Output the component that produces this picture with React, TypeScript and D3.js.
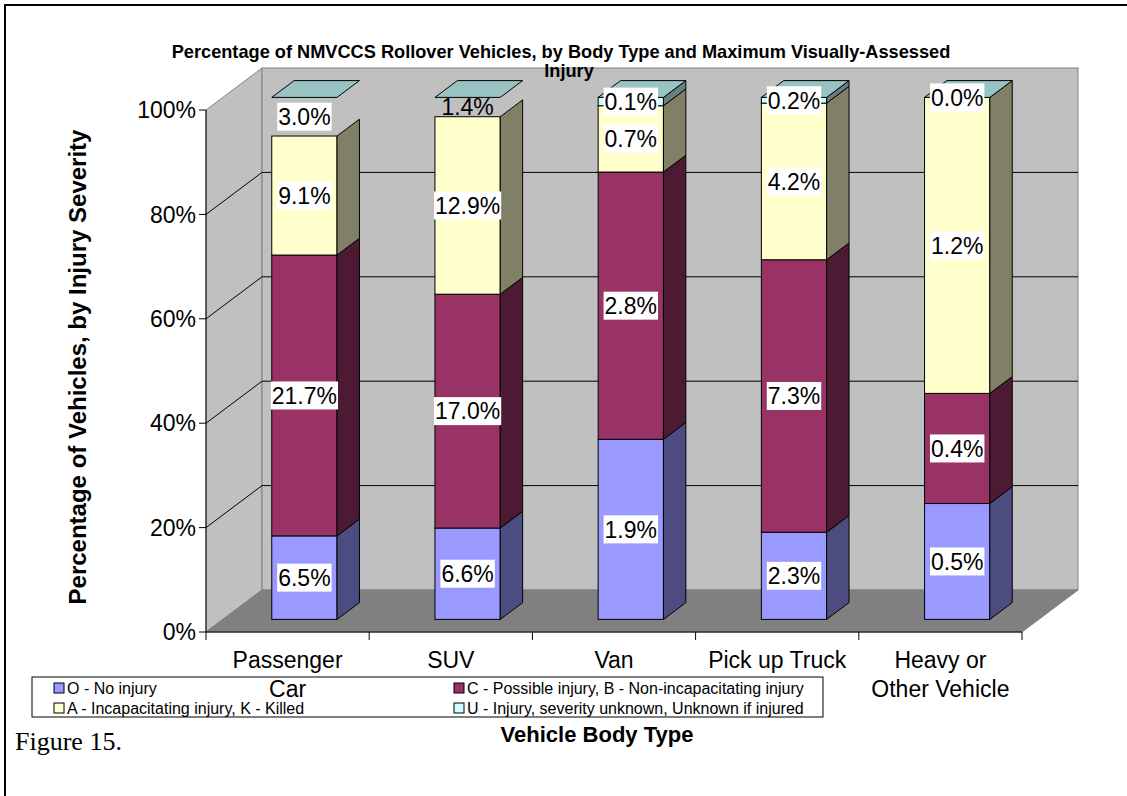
import React, { useEffect, useRef } from 'react';
import * as d3 from 'd3';

// ---------------- data ----------------
const categories = ['Passenger Car', 'SUV', 'Van', 'Pick up Truck', 'Heavy or Other Vehicle'];
const categoryLines = [['Passenger', 'Car'], ['SUV'], ['Van'], ['Pick up Truck'], ['Heavy or', 'Other Vehicle']];
const seriesKeys = ['O', 'C', 'A', 'U'];
const seriesNames = [
  'O - No injury',
  'C - Possible injury, B - Non-incapacitating injury',
  'A - Incapacitating injury, K - Killed',
  'U - Injury, severity unknown, Unknown if injured',
];
// share of each bar's height (percent)
const noInjury = [16.0, 17.5, 34.5, 16.7, 22.2];
const possibleInjury = [53.8, 44.8, 51.2, 52.2, 21.1];
const incapacitating = [22.8, 34.0, 12.7, 30.0, 56.7];
const unknownInjury = [7.4, 3.7, 1.6, 1.1, 0.0];
// printed data labels
const noInjuryLabels = ['6.5%', '6.6%', '1.9%', '2.3%', '0.5%'];
const possibleInjuryLabels = ['21.7%', '17.0%', '2.8%', '7.3%', '0.4%'];
const incapacitatingLabels = ['9.1%', '12.9%', '0.7%', '4.2%', '1.2%'];
const unknownInjuryLabels = ['3.0%', '1.4%', '0.1%', '0.2%', '0.0%'];
// whether the front/side faces of the top (U) segment are rendered
const unknownFacesDrawn = [false, false, true, true, true];
// whether the U label has its white background
const unknownLabelBoxed = [true, false, true, true, true];
const yTicks = [0, 20, 40, 60, 80, 100];

const title1 = 'Percentage of NMVCCS Rollover Vehicles, by Body Type and Maximum Visually-Assessed';
const title2 = 'Injury';
const yTitle = 'Percentage of Vehicles, by Injury Severity';
const xTitle = 'Vehicle Body Type';
const caption = 'Figure 15.';

// ---------------- styles ----------------
const frontColors = ['#9999FF', '#993366', '#FFFFCC', '#CCFFFF'];
const sideColors = ['#4C4C80', '#4D1A33', '#808066', '#668080'];
const topColors = ['#7373BF', '#73264D', '#BFBF99', '#99C2C2'];
const SANS = 'Liberation Sans, Arial, sans-serif';

const W = 1127;
const H = 796;
const X0 = 206;
const X1 = 1022;
const Y0 = 632;
const Y100 = 110;
const DX = 56;
const DY = -42;

export default function App() {
  const ref = useRef<SVGSVGElement | null>(null);

  useEffect(() => {
    const svg = d3.select(ref.current);
    svg.selectAll('*').remove();

    const x = d3.scaleBand<string>().domain(categories).range([X0, X1]).paddingInner(0).paddingOuter(0);
    const y = d3.scaleLinear().domain([0, 100]).range([Y0, Y100]);
    const bw = x.bandwidth();

    const rows = categories.map((c, i) => ({
      cat: c,
      O: noInjury[i],
      C: possibleInjury[i],
      A: incapacitating[i],
      U: unknownInjury[i],
    }));
    const stacked = d3.stack<any>().keys(seriesKeys)(rows);
    const labelSets = [noInjuryLabels, possibleInjuryLabels, incapacitatingLabels, unknownInjuryLabels];

    svg.append('rect').attr('width', W).attr('height', H).attr('fill', '#fff');

    // frame (cell borders)
    svg.append('line').attr('x1', 4).attr('x2', W).attr('y1', 5).attr('y2', 5).attr('stroke', '#000').attr('stroke-width', 2);
    svg.append('line').attr('x1', 5).attr('x2', 5).attr('y1', 4).attr('y2', H).attr('stroke', '#000').attr('stroke-width', 2);

    // walls
    const g = svg.append('g');
    g.append('polygon')
      .attr('points', [[X0, Y0], [X0, Y100], [X0 + DX, Y100 + DY], [X0 + DX, Y0 + DY]].map((p) => p.join(',')).join(' '))
      .attr('fill', '#C0C0C0').attr('stroke', '#808080');
    g.append('rect')
      .attr('x', X0 + DX).attr('y', Y100 + DY).attr('width', X1 - X0).attr('height', Y0 - Y100)
      .attr('fill', '#C0C0C0').attr('stroke', '#808080');
    g.append('polygon')
      .attr('points', [[X0, Y0], [X1, Y0], [X1 + DX, Y0 + DY], [X0 + DX, Y0 + DY]].map((p) => p.join(',')).join(' '))
      .attr('fill', '#808080').attr('stroke', '#808080');
    // gridlines
    yTicks.filter((t) => t > 0 && t < 100).forEach((t) => {
      g.append('line').attr('x1', X0).attr('y1', y(t)).attr('x2', X0 + DX).attr('y2', y(t) + DY).attr('stroke', '#000');
      g.append('line').attr('x1', X0 + DX).attr('y1', y(t) + DY).attr('x2', X1 + DX).attr('y2', y(t) + DY).attr('stroke', '#000');
    });
    // axes
    g.append('line').attr('x1', X0).attr('x2', X0).attr('y1', Y100).attr('y2', Y0).attr('stroke', '#000');
    g.append('line').attr('x1', X0).attr('x2', X1).attr('y1', Y0).attr('y2', Y0).attr('stroke', '#000');
    yTicks.forEach((t) => {
      g.append('line').attr('x1', X0 - 7).attr('x2', X0).attr('y1', y(t)).attr('y2', y(t)).attr('stroke', '#000');
      g.append('text').attr('x', X0 - 10).attr('y', y(t)).attr('dy', '0.36em').attr('text-anchor', 'end')
        .attr('font-family', SANS).attr('font-size', 23).text(`${t}%`);
    });
    const bounds = [...categories.map((c) => x(c) as number), X1];
    bounds.forEach((b) => {
      g.append('line').attr('x1', b).attr('x2', b).attr('y1', Y0).attr('y2', Y0 + 8).attr('stroke', '#000');
    });

    // bars
    const fxo = 0.3 * DX;
    const fyo = 0.3 * DY;
    const ddx = 0.4 * DX;
    const ddy = 0.4 * DY;
    const barW = bw * 0.4;
    const labels: { x: number; y: number; t: string; boxed: boolean }[] = [];
    categories.forEach((c, i) => {
      const fx = (x(c) as number) + bw * 0.3 + fxo;
      stacked.forEach((s, k) => {
        const [v0, v1] = s[i];
        const yb = y(v0) + fyo;
        const yt = y(v1) + fyo;
        const isTop = k === stacked.length - 1;
        const drawFaces = !(isTop && !unknownFacesDrawn[i]);
        if (drawFaces && v1 - v0 > 0) {
          g.append('rect').attr('x', fx).attr('y', yt).attr('width', barW).attr('height', yb - yt)
            .attr('fill', frontColors[k]).attr('stroke', '#000');
          g.append('polygon')
            .attr('points', [[fx + barW, yb], [fx + barW + ddx, yb + ddy], [fx + barW + ddx, yt + ddy], [fx + barW, yt]].map((p) => p.join(',')).join(' '))
            .attr('fill', sideColors[k]).attr('stroke', '#000');
        }
        if (isTop) {
          g.append('polygon')
            .attr('points', [[fx, yt], [fx + barW, yt], [fx + barW + ddx, yt + ddy], [fx + ddx, yt + ddy]].map((p) => p.join(',')).join(' '))
            .attr('fill', topColors[k]).attr('stroke', '#000');
        }
        labels.push({
          x: fx + barW / 2,
          y: (yb + yt) / 2,
          t: labelSets[k][i],
          boxed: isTop ? unknownLabelBoxed[i] : true,
        });
      });
    });

    // data labels
    labels.forEach((l) => {
      const lg = svg.append('g');
      const rect = lg.append('rect').attr('fill', l.boxed ? '#fff' : 'none');
      const txt = lg.append('text').attr('x', l.x).attr('y', l.y).attr('dy', '0.36em').attr('text-anchor', 'middle')
        .attr('font-family', SANS).attr('font-size', 23).text(l.t);
      const bb = (txt.node() as SVGTextElement).getBBox();
      rect.attr('x', bb.x - 1).attr('y', l.y - 14).attr('width', bb.width + 2).attr('height', 28);
    });

    // legend
    const leg = svg.append('g');
    leg.append('rect').attr('x', 32).attr('y', 677).attr('width', 791).attr('height', 40).attr('fill', '#fff').attr('stroke', '#000');
    const colX = [54, 454];
    const rowY = [688, 708];
    seriesNames.forEach((n, k) => {
      const cx = colX[k % 2];
      const cy = rowY[Math.floor(k / 2)];
      leg.append('rect').attr('x', cx).attr('y', cy - 5).attr('width', 10).attr('height', 10)
        .attr('fill', frontColors[k]).attr('stroke', '#000');
      leg.append('text').attr('x', cx + 13).attr('y', cy).attr('dy', '0.36em').attr('font-family', SANS)
        .attr('font-size', 16).text(n);
    });

    // category labels
    categories.forEach((c, i) => {
      const cx = (x(c) as number) + bw / 2;
      categoryLines[i].forEach((ln, j) => {
        svg.append('text').attr('x', cx).attr('y', 668 + j * 29).attr('text-anchor', 'middle')
          .attr('font-family', SANS).attr('font-size', 23).text(ln);
      });
    });

    // titles
    svg.append('text').attr('x', 561).attr('y', 58).attr('text-anchor', 'middle').attr('font-family', SANS)
      .attr('font-weight', 'bold').attr('font-size', 18.2).text(title1);
    svg.append('text').attr('x', 569).attr('y', 77).attr('text-anchor', 'middle').attr('font-family', SANS)
      .attr('font-weight', 'bold').attr('font-size', 18.2).text(title2);
    svg.append('text').attr('transform', 'translate(86,367) rotate(-90)').attr('text-anchor', 'middle')
      .attr('font-family', SANS).attr('font-weight', 'bold').attr('font-size', 24).text(yTitle);
    svg.append('text').attr('x', 597).attr('y', 742).attr('text-anchor', 'middle').attr('font-family', SANS)
      .attr('font-weight', 'bold').attr('font-size', 22).text(xTitle);
    svg.append('text').attr('x', 15).attr('y', 750).attr('font-family', 'Liberation Serif, Times New Roman, serif')
      .attr('font-size', 26).text(caption);
  }, []);

  return (
    <svg ref={ref} width={W} height={H} style={{ position: 'absolute', left: 0, top: 0, display: 'block' }} />
  );
}
